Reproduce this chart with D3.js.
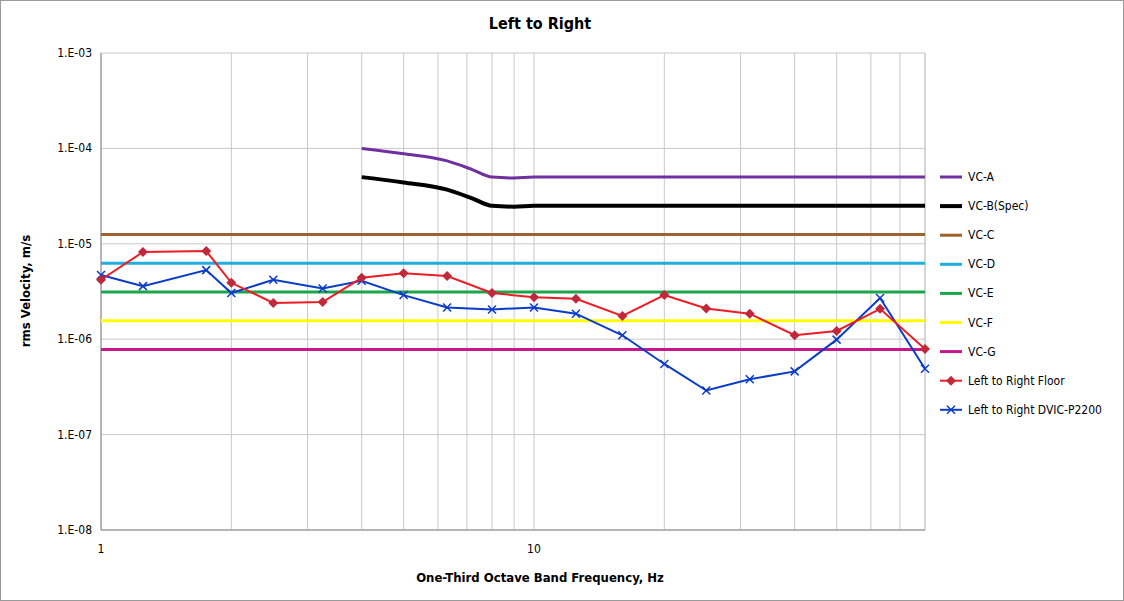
<!DOCTYPE html><html><head><meta charset="utf-8">
<script src="https://cdn.jsdelivr.net/npm/d3@7"></script>
<style>body{margin:0;background:#fff}text{font-family:"Liberation Sans Narrow","DejaVu Sans Condensed",sans-serif}</style>
</head><body><svg id="c" width="1124" height="601"></svg>
<script>
const freqs=[1,1.25,1.75,2,2.5,3.25,4,5,6.3,8,10,12.5,16,20,25,31.5,40,50,63,80];
const floorVals=[4.2e-6,8.2e-6,8.4e-6,3.9e-6,2.4e-6,2.45e-6,4.4e-6,4.9e-6,4.6e-6,3.05e-6,2.75e-6,2.65e-6,1.75e-6,2.9e-6,2.1e-6,1.85e-6,1.1e-6,1.22e-6,2.08e-6,7.9e-7];
const dvicVals=[4.7e-6,3.6e-6,5.3e-6,3.05e-6,4.2e-6,3.4e-6,4.1e-6,2.9e-6,2.15e-6,2.05e-6,2.15e-6,1.85e-6,1.1e-6,5.5e-7,2.9e-7,3.8e-7,4.6e-7,9.9e-7,2.7e-6,4.9e-7];
const vcAf=[4,5,6.3,7.2,8,9,10,80];
const vcAv=[1e-4,8.8e-5,7.4e-5,6.0e-5,5.0e-5,4.9e-5,5e-5,5e-5];
const vcBv=[5e-5,4.4e-5,3.7e-5,3.0e-5,2.5e-5,2.45e-5,2.5e-5,2.5e-5];
const flatNames=["VC-C","VC-D","VC-E","VC-F","VC-G"];
const flatVals=[1.25e-5,6.25e-6,3.12e-6,1.56e-6,7.8e-7];
const flatCols=["#a0622d","#1eaee0","#1aa64a","#ffff00","#c8168c"];
const yTicks=[1e-8,1e-7,1e-6,1e-5,1e-4,1e-3];
const yLabels=["1.E-08","1.E-07","1.E-06","1.E-05","1.E-04","1.E-03"];

const svg=d3.select("#c");
svg.append("rect").attr("x",0.5).attr("y",0.5).attr("width",1123).attr("height",600).attr("fill","#fff").attr("stroke","#999");
const x=d3.scaleLog().domain([1,80]).range([101,925]);
const y=d3.scaleLog().domain([1e-8,1e-3]).range([530,53]);
const g=svg.append("g");
// grid
const minors=[];for(let d of [1,10])for(let k=1;k<10;k++){const v=d*k;if(v<=80)minors.push(v);}
minors.push(80);
g.selectAll(".vg").data(minors).enter().append("line").attr("x1",d=>x(d)).attr("x2",d=>x(d)).attr("y1",53).attr("y2",530).attr("stroke","#c8c8c8");
g.selectAll(".hg").data(yTicks).enter().append("line").attr("x1",101).attr("x2",925).attr("y1",d=>y(d)).attr("y2",d=>y(d)).attr("stroke","#c8c8c8");
g.append("line").attr("x1",101).attr("x2",101).attr("y1",53).attr("y2",530).attr("stroke","#888");
g.append("line").attr("x1",101).attr("x2",925).attr("y1",530).attr("y2",530).attr("stroke","#888");
svg.selectAll(".yl").data(yTicks).enter().append("text").attr("x",92).attr("y",d=>y(d)+4).attr("text-anchor","end").attr("font-size",12).text((d,i)=>yLabels[i]);
svg.selectAll(".xl").data([1,10]).enter().append("text").attr("x",d=>x(d)).attr("y",553).attr("text-anchor","middle").attr("font-size",12).text(d=>d);
svg.append("text").attr("x",540).attr("y",29).attr("text-anchor","middle").attr("font-size",16).attr("font-weight","bold").text("Left to Right");
svg.append("text").attr("x",540).attr("y",582).attr("text-anchor","middle").attr("font-size",13).attr("font-weight","bold").text("One-Third Octave Band Frequency, Hz");
svg.append("text").attr("transform","translate(30,291) rotate(-90)").attr("text-anchor","middle").attr("font-size",13).attr("font-weight","bold").text("rms Velocity, m/s");
// lines
const line=d3.line().x(d=>x(d[0])).y(d=>y(d[1]));
const curve=d3.line().x(d=>x(d[0])).y(d=>y(d[1])).curve(d3.curveMonotoneX);
flatVals.forEach((v,i)=>g.append("path").attr("d",line([[1,v],[80,v]])).attr("stroke",flatCols[i]).attr("stroke-width",3).attr("fill","none"));
g.append("path").attr("d",curve(vcAf.map((f,i)=>[f,vcAv[i]]))).attr("stroke","#7030a0").attr("stroke-width",3).attr("fill","none");
g.append("path").attr("d",curve(vcAf.map((f,i)=>[f,vcBv[i]]))).attr("stroke","#000").attr("stroke-width",4).attr("fill","none");
const fl=freqs.map((f,i)=>[f,floorVals[i]]), dv=freqs.map((f,i)=>[f,dvicVals[i]]);
g.append("path").attr("d",line(dv)).attr("stroke","#0a3cc8").attr("stroke-width",2).attr("fill","none");
g.append("path").attr("d",line(fl)).attr("stroke","#ee1c24").attr("stroke-width",2).attr("fill","none");
g.selectAll(".xm").data(dv).enter().append("path").attr("d",d=>{const a=x(d[0]),b=y(d[1]);return `M${a-4},${b-4}L${a+4},${b+4}M${a-4},${b+4}L${a+4},${b-4}`}).attr("stroke","#0a3cc8").attr("stroke-width",1.5);
g.selectAll(".dm").data(fl).enter().append("path").attr("d",d=>{const a=x(d[0]),b=y(d[1]);return `M${a},${b-5}L${a+5},${b}L${a},${b+5}L${a-5},${b}Z`}).attr("fill","#c0283c");
// legend
const leg=[["VC-A","#7030a0",3,null],["VC-B(Spec)","#000",4,null]].concat(flatNames.map((n,i)=>[n,flatCols[i],3,null])).concat([["Left to Right Floor","#ee1c24",2,"d"],["Left to Right DVIC-P2200","#0a3cc8",2,"x"]]);
leg.forEach((l,i)=>{const yy=177+i*29.1;
 svg.append("line").attr("x1",940).attr("x2",962).attr("y1",yy).attr("y2",yy).attr("stroke",l[1]).attr("stroke-width",l[2]);
 if(l[3]=="d")svg.append("path").attr("d",`M951,${yy-5}L956,${yy}L951,${yy+5}L946,${yy}Z`).attr("fill","#c0283c");
 if(l[3]=="x")svg.append("path").attr("d",`M947,${yy-4}L955,${yy+4}M947,${yy+4}L955,${yy-4}`).attr("stroke","#0a3cc8").attr("stroke-width",1.5);
 svg.append("text").attr("x",968).attr("y",yy+4).attr("font-size",12).text(l[0]);});
</script></body></html>
